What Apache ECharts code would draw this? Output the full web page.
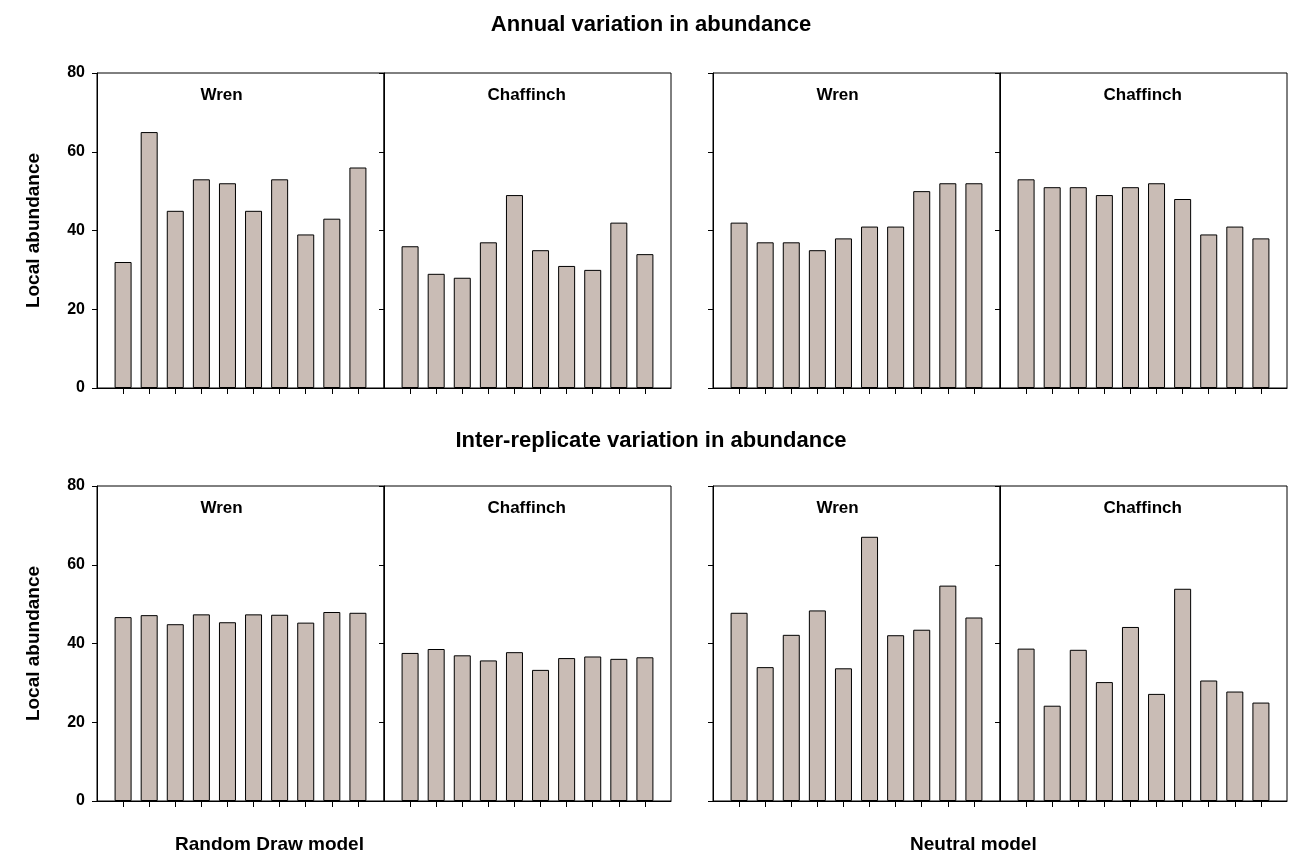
<html>
<head>
<meta charset="UTF-8">
<style>body{margin:0;background:#fff}#main{width:1302px;height:854px}</style>
</head>
<body>
<div id="main"></div>
<script src="https://cdn.jsdelivr.net/npm/echarts@6/dist/echarts.min.js"></script>
<script>
var years = [1, 2, 3, 4, 5, 6, 7, 8, 9, 10];
var panelNames = ['Wren', 'Chaffinch', 'Wren', 'Chaffinch'];
var annualWrenRD = [32, 65, 45, 53, 52, 45, 53, 39, 43, 56];
var annualChafRD = [36, 29, 28, 37, 49, 35, 31, 30, 42, 34];
var annualWrenN = [42, 37, 37, 35, 38, 41, 41, 50, 52, 52];
var annualChafN = [53, 51, 51, 49, 51, 52, 48, 39, 41, 38];
var repWrenRD = [46.7, 47.2, 44.9, 47.4, 45.4, 47.4, 47.3, 45.3, 48, 47.8];
var repChafRD = [37.6, 38.6, 37, 35.7, 37.8, 33.3, 36.3, 36.7, 36.1, 36.5];
var repWrenN = [47.8, 34, 42.2, 48.4, 33.7, 67.1, 42.1, 43.5, 54.7, 46.6];
var repChafN = [38.7, 24.2, 38.4, 30.2, 44.2, 27.2, 53.9, 30.6, 27.8, 25];
var allData = [annualWrenRD, annualChafRD, annualWrenN, annualChafN, repWrenRD, repChafRD, repWrenN, repChafN];

var lefts = [97, 384, 713, 1000];
var tops = [73, 486];
var W = 287, H = 315;
var grids = [], xAxes = [], yAxes = [], series = [], graphics = [];
var f = 'Liberation Sans, Arial, sans-serif';
for (var i = 0; i < 8; i++) {
  var r = Math.floor(i / 4), c = i % 4;
  grids.push({left: lefts[c], top: tops[r], width: W, height: H, show: true, borderColor: '#000', borderWidth: 1});
  xAxes.push({type: 'value', gridIndex: i, min: 0, max: 11, interval: 1,
    axisLine: {lineStyle: {color: '#000'}},
    axisTick: {length: 6, customValues: years, lineStyle: {color: '#000'}},
    splitLine: {show: false}, axisLabel: {show: false}});
  yAxes.push({type: 'value', gridIndex: i, min: 0, max: 80, interval: 20,
    axisLine: {show: true, lineStyle: {color: '#000'}}, axisTick: {show: true, length: 5, lineStyle: {color: '#000'}},
    splitLine: {show: false},
    axisLabel: {show: c === 0, color: '#000', fontWeight: 'bold', fontSize: 16, fontFamily: f, margin: 12},
    name: c === 0 ? 'Local abundance' : '', nameLocation: 'middle', nameGap: 54,
    nameTextStyle: {color: '#000', fontWeight: 'bold', fontSize: 19, fontFamily: f}});
  series.push({type: 'bar', xAxisIndex: i, yAxisIndex: i, barWidth: 17,
    data: allData[i].map(function (v, k) { return [years[k], v]; }),
    itemStyle: {color: '#c9bcb5', borderColor: '#000', borderWidth: 1}});
  graphics.push({type: 'text', left: lefts[c] + W / 2 - 40, top: tops[r] + 14,
    style: {text: panelNames[c], font: 'bold 17px ' + f, fill: '#000', textAlign: 'center', width: 80}});
}
graphics.push({type: 'text', left: 'center', top: 14, style: {text: 'Annual variation in abundance', font: 'bold 22px ' + f, fill: '#000'}});
graphics.push({type: 'text', left: 'center', top: 430, style: {text: 'Inter-replicate variation in abundance', font: 'bold 22px ' + f, fill: '#000'}});
graphics.push({type: 'text', left: 175, top: 835, style: {text: 'Random Draw model', font: 'bold 19px ' + f, fill: '#000'}});
graphics.push({type: 'text', left: 910, top: 835, style: {text: 'Neutral model', font: 'bold 19px ' + f, fill: '#000'}});

var chart = echarts.init(document.getElementById('main'));
chart.setOption({animation: false, grid: grids, xAxis: xAxes, yAxis: yAxes, series: series, graphic: graphics});
</script>
</body>
</html>
